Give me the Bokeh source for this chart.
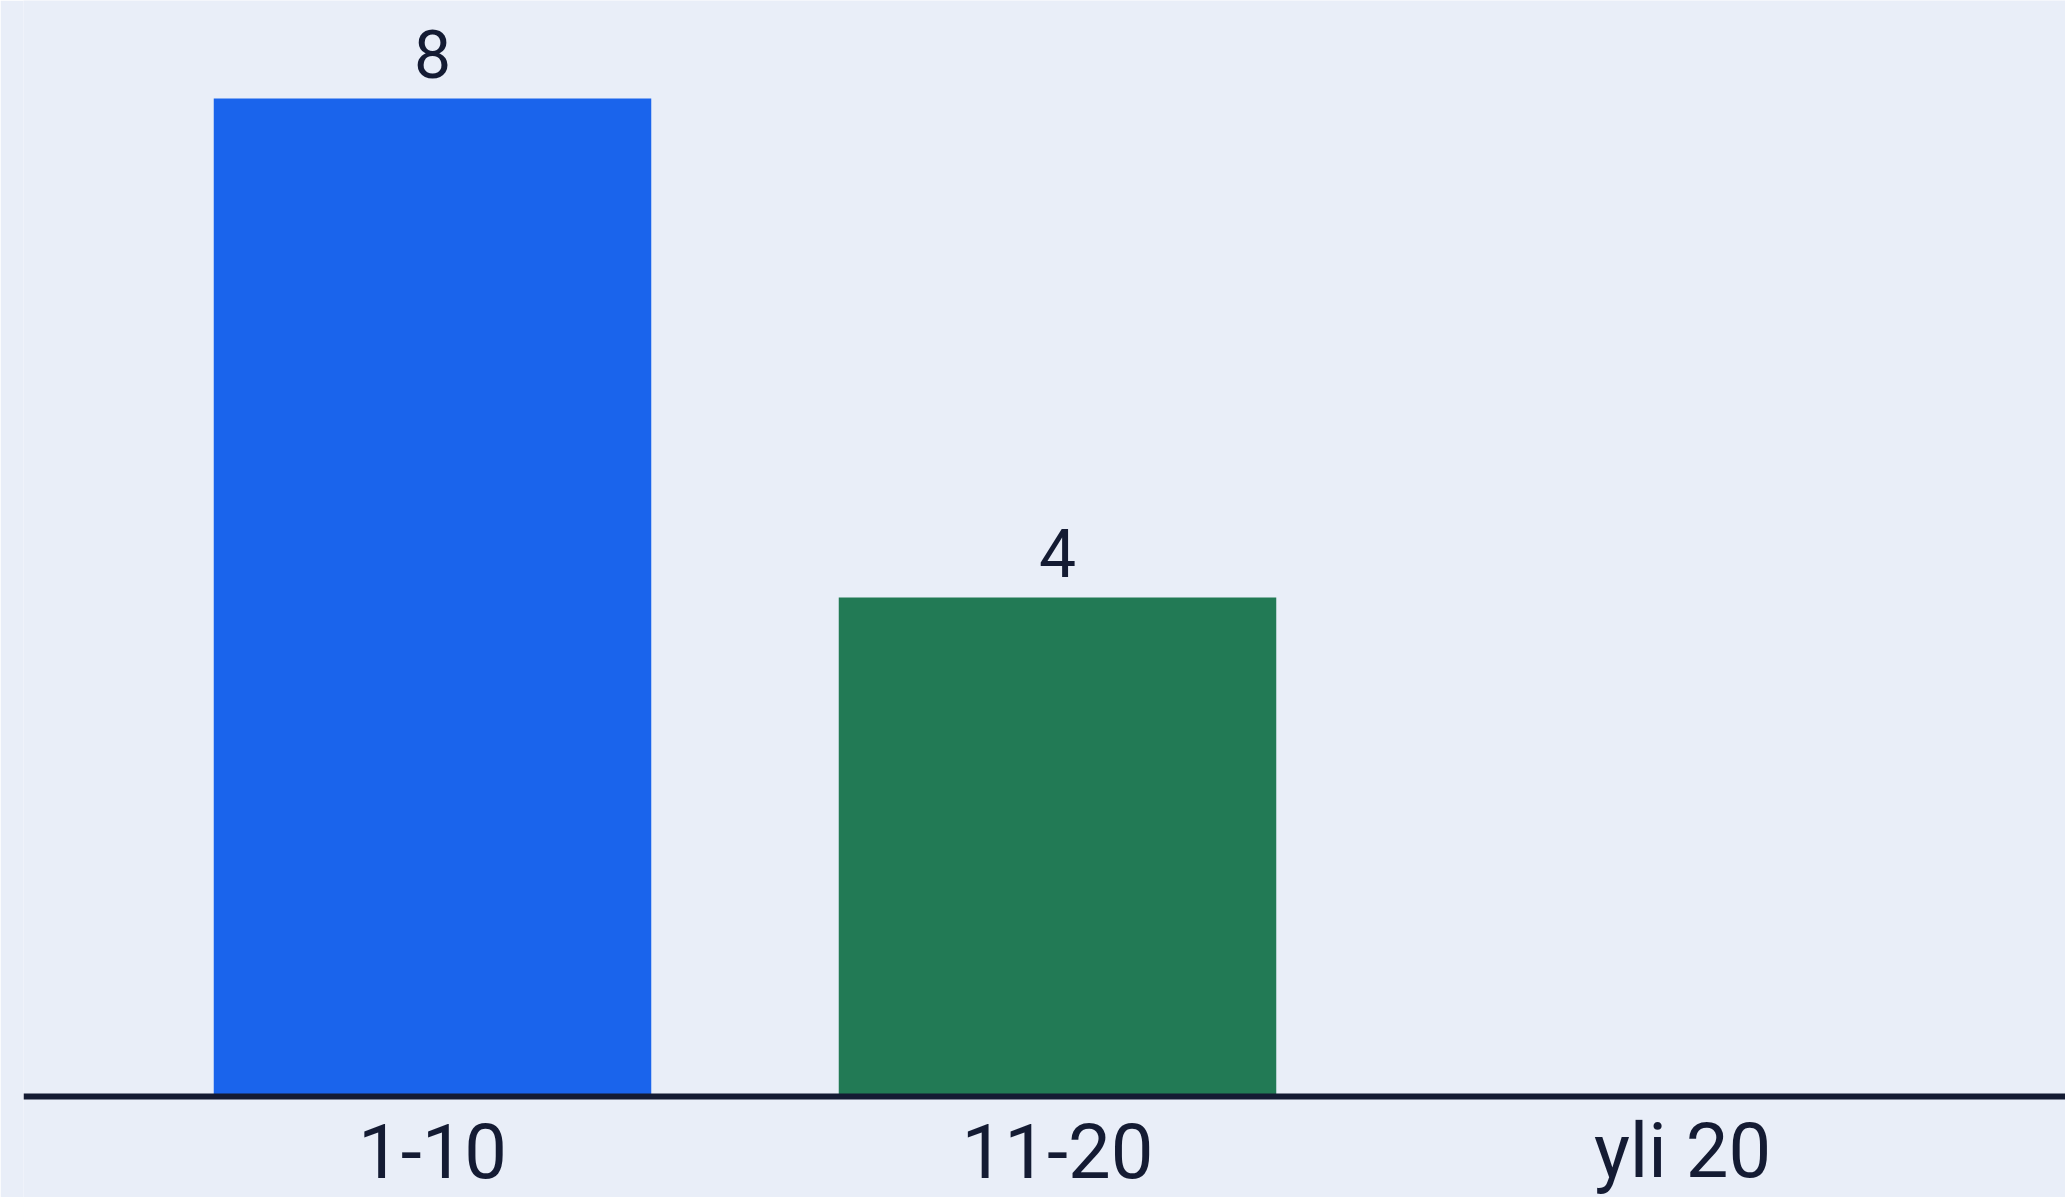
from bokeh.plotting import figure
from bokeh.models import ColumnDataSource, Range1d, Span
from bokeh.core.properties import value
from bokeh.embed import file_html
from bokeh.resources import INLINE

categories = ["1-10", "11-20", "yli 20"]
counts = [8, 4, 0]
bar_colors = ["#1A64EC", "#227A55", "#1A64EC"]

positions = list(range(len(categories)))
labels = [str(c) if c > 0 else "" for c in counts]
zeros = [0] * len(categories)

BG = "#E9EEF8"
INK = "#141B33"
FONT = "Roboto"

src = ColumnDataSource(dict(x=positions, top=counts, base=zeros, color=bar_colors,
                            label=labels, cat=categories))

p = figure(width=2065, height=1197, output_backend="svg", toolbar_location=None,
           x_range=Range1d(-0.6544, 2.6128), y_range=Range1d(-0.8096, 8.785),
           min_border_left=23, min_border_right=0, min_border_top=0, min_border_bottom=0)
p.background_fill_color = BG
p.border_fill_color = BG
p.outline_line_color = None
p.xgrid.visible = False
p.ygrid.visible = False
p.xaxis.visible = False
p.yaxis.visible = False

p.vbar(x="x", top="top", bottom="base", width=0.70, color="color", line_color=None, source=src)

# baseline at y = 0
p.add_layout(Span(location=0, dimension="width", line_color=INK, line_width=6))

# value labels above bars
p.text(x="x", y="top", text="label", source=src, text_align="center", text_baseline="middle",
       y_offset=-44, text_font=value(FONT), text_font_size="66px", text_color=INK)

# category labels under the baseline
p.text(x="x", y="base", text="cat", source=src, text_align="center", text_baseline="middle",
       y_offset=55, text_font=value(FONT), text_font_size="76px", text_color=INK)

open("out.html", "w").write(file_html(p, INLINE))
